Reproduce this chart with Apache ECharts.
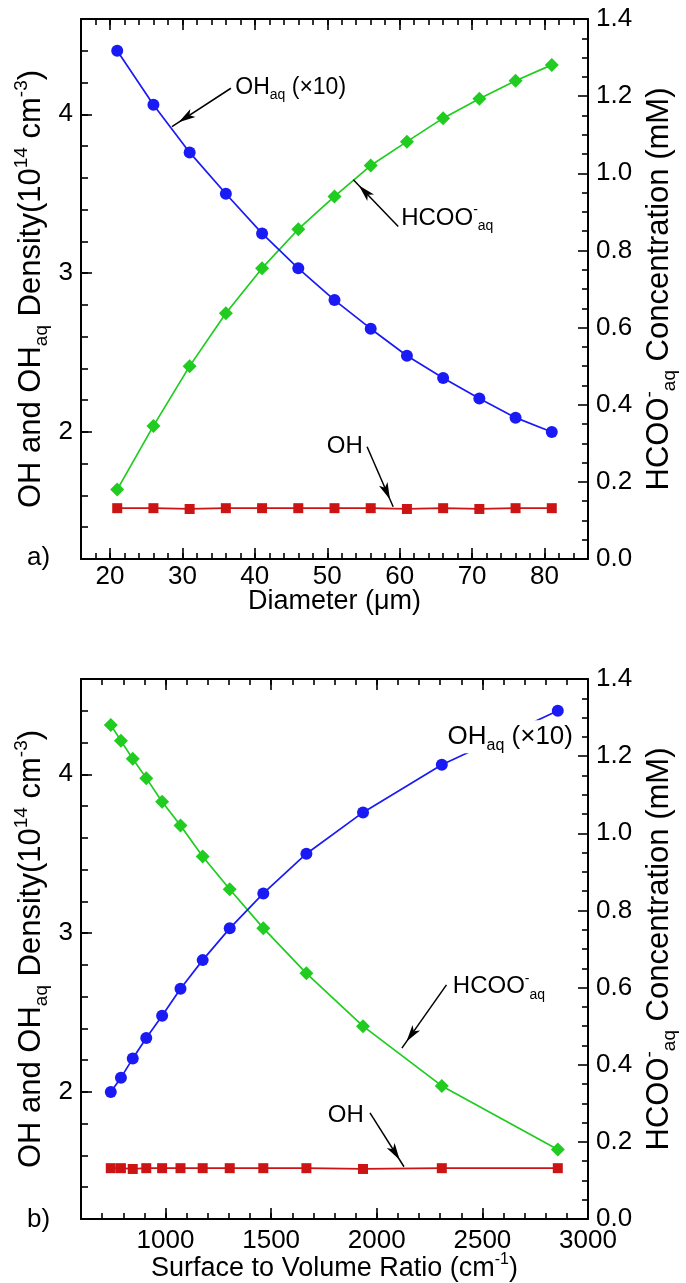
<!DOCTYPE html>
<html>
<head>
<meta charset="utf-8">
<title>OH, OHaq and HCOO- against droplet size</title>
<script src="https://cdn.jsdelivr.net/npm/echarts@6.0.0/dist/echarts.min.js"></script>
<style>
    html, body { margin: 0; padding: 0; background: #fff; }
    #chart { width: 686px; height: 1283px; }
</style>
</head>
<body>
<div id="chart"></div>
<script>
// panel a) : droplet diameter (um)
const diameter = [21, 26, 31, 36, 41, 46, 51, 56, 61, 66, 71, 76, 81];
const ohAqA = [4.40, 4.06, 3.76, 3.50, 3.25, 3.03, 2.83, 2.65, 2.48, 2.34, 2.21, 2.09, 2.00];
const hcooA = [0.18, 0.345, 0.50, 0.637, 0.754, 0.855, 0.94, 1.02, 1.082, 1.143, 1.193, 1.24, 1.281];
const ohA = [1.52, 1.52, 1.515, 1.52, 1.52, 1.52, 1.52, 1.52, 1.515, 1.52, 1.515, 1.52, 1.52];

// panel b) : surface to volume ratio (cm-1)
const svRatio = [741, 789, 845, 909, 984, 1071, 1176, 1304, 1463, 1667, 1935, 2308, 2857];
const ohAqB = [2.00, 2.09, 2.21, 2.34, 2.48, 2.65, 2.83, 3.03, 3.25, 3.50, 3.76, 4.06, 4.40];
const hcooB = [1.281, 1.24, 1.193, 1.143, 1.082, 1.02, 0.94, 0.855, 0.754, 0.637, 0.50, 0.345, 0.18];
const ohB = [1.52, 1.52, 1.515, 1.52, 1.52, 1.52, 1.52, 1.52, 1.52, 1.52, 1.515, 1.52, 1.52];

// tick labels
const diameterTicks = [20, 30, 40, 50, 60, 70, 80];
const svTicks = [1000, 1500, 2000, 2500, 3000];
const densityTicks = [2, 3, 4];

const FONT = '"Liberation Sans", Arial, Helvetica, sans-serif';
const BLUE = "#1a1af5";
const GREEN = "#1fcc1f";
const RED = "#cc1414";

function richFor(s) {
    const small = Math.round(s * 0.6);
    return {
        sup: { fontSize: small, fontFamily: FONT, color: "#000", verticalAlign: "top", lineHeight: Math.round(s * 0.75) },
        sub: { fontSize: small, fontFamily: FONT, color: "#000", verticalAlign: "bottom", lineHeight: Math.round(s * 0.75) }
    };
}

function textStyle(s) {
    return { fontSize: s, fontFamily: FONT, color: "#000", lineHeight: Math.round(s * 1.25), rich: richFor(s) };
}

const axisLine = { show: true, onZero: false, lineStyle: { color: "#000", width: 2 } };
const tickLine = { color: "#000", width: 1.6 };

function xAxisSet(grid, min, max, step, majors, name, labelMargin, nameGap) {
    const base = { type: "value", gridIndex: grid, min: min, max: max, splitLine: { show: false } };
    return [
        Object.assign({}, base, {
            position: "bottom", interval: step, axisLine: axisLine,
            axisTick: { show: true, inside: true, length: 6, lineStyle: tickLine },
            axisLabel: {
                customValues: majors, margin: labelMargin, color: "#000", fontSize: 26, fontFamily: FONT,
                formatter: (v) => String(v)
            },
            name: name, nameLocation: "middle", nameGap: nameGap, nameMoveOverlap: false,
            nameTextStyle: textStyle(27)
        }),
        Object.assign({}, base, {
            position: "bottom", axisLine: { show: false },
            axisTick: { show: true, inside: true, length: 11, customValues: majors, lineStyle: tickLine },
            axisLabel: { show: false }
        }),
        Object.assign({}, base, {
            position: "top", interval: step, axisLine: axisLine,
            axisTick: { show: true, inside: true, length: 6, lineStyle: tickLine },
            axisLabel: { show: false }
        }),
        Object.assign({}, base, {
            position: "top", axisLine: { show: false },
            axisTick: { show: true, inside: true, length: 11, customValues: majors, lineStyle: tickLine },
            axisLabel: { show: false }
        })
    ];
}

function yAxisSet(grid) {
    const left = { type: "value", gridIndex: grid, position: "left", min: 1.2, max: 4.6, splitLine: { show: false } };
    return [
        Object.assign({}, left, {
            interval: 0.2, axisLine: axisLine,
            axisTick: { show: true, inside: true, length: 7, lineStyle: tickLine },
            axisLabel: { customValues: densityTicks, margin: 8, color: "#000", fontSize: 26, fontFamily: FONT },
            name: "OH and OH{sub|aq} Density(10{sup|14} cm{sup|-3})",
            nameLocation: "middle", nameRotate: 90, nameGap: 30, nameMoveOverlap: false,
            nameTextStyle: textStyle(31)
        }),
        Object.assign({}, left, {
            axisLine: { show: false },
            axisTick: { show: true, inside: true, length: 11, customValues: densityTicks, lineStyle: tickLine },
            axisLabel: { show: false }
        }),
        {
            type: "value", gridIndex: grid, position: "right", min: 0, max: 1.4, interval: 0.2,
            splitLine: { show: false }, axisLine: axisLine,
            axisTick: { show: true, inside: true, length: 10, lineStyle: tickLine },
            minorTick: { show: true, splitNumber: 4, length: 6, lineStyle: tickLine },
            axisLabel: { margin: 8, color: "#000", fontSize: 26, fontFamily: FONT, formatter: (v) => v.toFixed(1) },
            name: "HCOO{sup|-}{sub|aq} Concentration (mM)",
            nameLocation: "middle", nameRotate: 90, nameGap: 52, nameMoveOverlap: false,
            nameTextStyle: textStyle(31)
        }
    ];
}

function arrow(from, to) {
    return {
        silent: true, animation: false, symbol: ["none", "arrow"],
        lineStyle: { color: "#000", width: 1.5, type: "solid" },
        label: { show: false }, emphasis: { disabled: true },
        data: [[{ coord: from }, { coord: to, symbol: "arrow", symbolSize: [7, 17], symbolOffset: [0, 8] }]]
    };
}

function lineSeries(xs, ys, xi, yi, color, symbol, size, markLine) {
    const s = {
        type: "line", xAxisIndex: xi, yAxisIndex: yi,
        data: xs.map((x, i) => [x, ys[i]]),
        symbol: symbol, symbolSize: size, showSymbol: true, showAllSymbol: true,
        lineStyle: { color: color, width: 1.7 },
        itemStyle: { color: color, borderWidth: 0 },
        emphasis: { disabled: true }, animation: false
    };
    if (markLine) s.markLine = markLine;
    return s;
}

const chart = echarts.init(document.getElementById("chart"));

chart.setOption({
    backgroundColor: "#fff",
    grid: [
        { left: 81, top: 19, width: 507, height: 540, outerBoundsMode: "none" },
        { left: 81, top: 679, width: 507, height: 540, outerBoundsMode: "none" }
    ],
    xAxis: [
        ...xAxisSet(0, 16, 86, 2, diameterTicks, "Diameter (μm)", 5, 26),
        ...xAxisSet(1, 600, 3000, 100, svTicks, "Surface to Volume Ratio (cm{sup|-1})", 9, 33)
    ],
    yAxis: [...yAxisSet(0), ...yAxisSet(1)],
    series: [
        lineSeries(diameter, hcooA, 0, 2, GREEN, "diamond", 14, arrow([59.8, 0.862], [53.6, 0.983])),
        lineSeries(diameter, ohAqA, 0, 0, BLUE, "circle", 12, arrow([36.7, 4.164], [28.56, 3.922])),
        lineSeries(diameter, ohA, 0, 0, RED, "rect", 10, arrow([55.5, 1.907], [59.1, 1.529])),
        lineSeries(svRatio, hcooB, 4, 5, GREEN, "diamond", 14, arrow([2330, 0.607], [2119, 0.443])),
        lineSeries(svRatio, ohAqB, 4, 3, BLUE, "circle", 12),
        lineSeries(svRatio, ohB, 4, 3, RED, "rect", 10, arrow([1968, 1.868], [2129, 1.529]))
    ]
});

// annotation texts, anchored in data coordinates of the series they describe
const notes = [
    { series: 1, at: [37.3, 4.165], text: "OH{sub|aq} (×10)", align: "left", size: 23 },
    { series: 0, at: [60.2, 0.884], text: "HCOO{sup|-}{sub|aq}", align: "left", size: 24 },
    { series: 2, at: [54.9, 1.907], text: "OH", align: "right", size: 24 },
    { series: 4, at: [2335, 4.237], text: "OH{sub|aq} (×10)", align: "left", size: 26, bg: true },
    { series: 3, at: [2360, 0.602], text: "HCOO{sup|-}{sub|aq}", align: "left", size: 24 },
    { series: 5, at: [1939, 1.855], text: "OH", align: "right", size: 24 }
];

const graphic = notes.map((n) => {
    const p = chart.convertToPixel({ seriesIndex: n.series }, n.at);
    return {
        type: "text", x: p[0], y: p[1], z: 50,
        style: {
            text: n.text, rich: richFor(n.size), fontSize: n.size, fontFamily: FONT, fill: "#000",
            lineHeight: Math.round(n.size * 1.25), align: n.align, verticalAlign: "middle",
            backgroundColor: n.bg ? "#fff" : null
        }
    };
});
graphic.push(
    { type: "text", x: 27, y: 558, z: 50, style: { text: "a)", fontSize: 26, fontFamily: FONT, fill: "#000", verticalAlign: "middle" } },
    { type: "text", x: 27, y: 1220, z: 50, style: { text: "b)", fontSize: 26, fontFamily: FONT, fill: "#000", verticalAlign: "middle" } }
);
chart.setOption({ graphic: graphic });
</script>
</body>
</html>
